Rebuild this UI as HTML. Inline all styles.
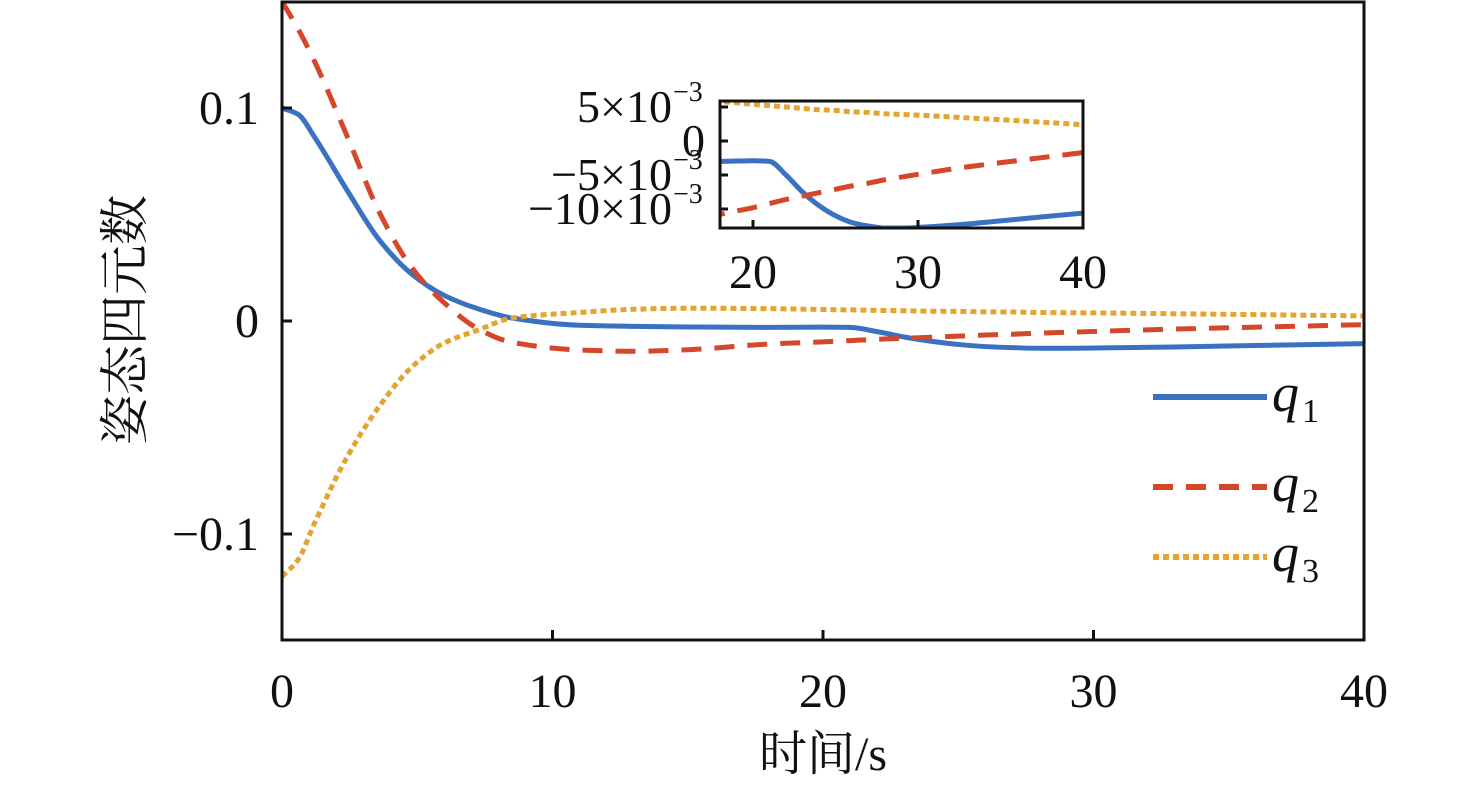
<!DOCTYPE html>
<html><head><meta charset="utf-8">
<style>
html,body{margin:0;padding:0;background:#fff;overflow:hidden;width:1476px;height:785px;}
svg{display:block;overflow:hidden;}
text{font-family:"Liberation Serif","Noto Serif CJK SC",serif;fill:#111;}
</style></head>
<body>
<svg id="chart" width="1476" height="785" viewBox="0 0 1476 785" xmlns="http://www.w3.org/2000/svg">
<defs>
<clipPath id="mainClip"><rect x="282" y="2" width="1082" height="638"/></clipPath>
<clipPath id="insetClip"><rect x="720" y="101" width="363" height="127"/></clipPath>
</defs>
<g id="main"></g>
<g id="inset"></g>
<g id="legend"></g>
</svg>
<script>
const times = [0,0.6,1.2,2.4,3.6,4.8,6,7.3,8.5,11,13,15,18,20,21,22,23,24,25,26,27,28,29,30,33,36,40];
const q1 = [0.1,0.097,0.0864,0.0615,0.038,0.022,0.012,0.0055,0.0014,-0.002,-0.0025,-0.0028,-0.003,-0.0029,-0.003,-0.005,-0.0075,-0.0095,-0.011,-0.012,-0.0125,-0.0128,-0.0128,-0.0127,-0.0122,-0.0115,-0.0106];
const q2 = [0.15,0.137,0.122,0.087,0.051,0.025,0.0085,-0.004,-0.01,-0.0136,-0.0142,-0.0135,-0.0108,-0.0098,-0.0092,-0.0086,-0.0081,-0.0076,-0.0071,-0.0066,-0.0062,-0.0057,-0.0053,-0.0049,-0.0038,-0.0029,-0.0017];
const q3 = [-0.12,-0.112,-0.095,-0.064,-0.040,-0.0216,-0.0103,-0.004,0.0014,0.004,0.0055,0.006,0.0058,0.0054,0.0052,0.005,0.0048,0.0046,0.0045,0.0043,0.0042,0.004,0.0039,0.0038,0.0034,0.003,0.0024];
const xTicks = [0,10,20,30,40];
const yTicks = [-0.1,0,0.1];
const yTickLabels = ["\u22120.1","0","0.1"];
const insetXTicks = [20,30,40];
const insetYTicks = [0.005,0,-0.005,-0.01];
const insetYTickLabels = ["5\u00d710","0","\u22125\u00d710","\u221210\u00d710"];
const seriesNames = ["q1","q2","q3"];

const NS="http://www.w3.org/2000/svg";
function mk(tag,attrs,parent){const e=document.createElementNS(NS,tag);for(const k in attrs)e.setAttribute(k,attrs[k]);parent.appendChild(e);return e;}
const colors=["#3a71c1","#d4472a","#e3a430"];
const dashes=["none","20 13","6 4"];

// monotone cubic (Fritsch-Carlson) in data space
function pathFrom(xs,ys,sx,sy){
  const n=xs.length, d=[], m=new Array(n);
  for(let i=0;i<n-1;i++) d.push((ys[i+1]-ys[i])/(xs[i+1]-xs[i]));
  m[0]=d[0]; m[n-1]=d[n-2];
  for(let i=1;i<n-1;i++){
    if(d[i-1]*d[i]<=0) m[i]=0;
    else{const h0=xs[i]-xs[i-1],h1=xs[i+1]-xs[i];const w1=2*h1+h0,w2=h1+2*h0;m[i]=(w1+w2)/(w1/d[i-1]+w2/d[i]);}
  }
  let p=`M${sx(xs[0])},${sy(ys[0])}`;
  for(let i=0;i<n-1;i++){
    const h=xs[i+1]-xs[i];
    const c1x=xs[i]+h/3,c1y=ys[i]+m[i]*h/3,c2x=xs[i+1]-h/3,c2y=ys[i+1]-m[i+1]*h/3;
    p+=` C${sx(c1x)},${sy(c1y)} ${sx(c2x)},${sy(c2y)} ${sx(xs[i+1])},${sy(ys[i+1])}`;
  }
  return p;
}
const series=[q1,q2,q3];

const L=282,R=1364,T=2,B=640;
const sx=t=>L+(t-0)/40*(R-L);
const sy=v=>321-v*2130;
const main=document.getElementById('main');
const mg=mk('g',{'clip-path':'url(#mainClip)'},main);
series.forEach((s,i)=>{
  const p=mk('path',{d:pathFrom(times,s,sx,sy),fill:'none',stroke:colors[i],'stroke-width':5,'stroke-dasharray':dashes[i]},mg);
  
  
});
const frame=mk('rect',{x:L,y:T,width:R-L,height:B-T,fill:'none',stroke:'#111','stroke-width':3},main);


xTicks.forEach(t=>{
  mk('line',{x1:sx(t),x2:sx(t),y1:B,y2:B-10,stroke:'#111','stroke-width':3},main);
  const tx=mk('text',{x:sx(t),y:707,'text-anchor':'middle','font-size':48},main);
  tx.textContent=t;
  
  
});
yTicks.forEach((v,i)=>{
  mk('line',{x1:L,x2:L+10,y1:sy(v),y2:sy(v),stroke:'#111','stroke-width':3},main);
  const tx=mk('text',{x:259,y:sy(v)+16,'text-anchor':'end','font-size':48},main);
  tx.textContent=yTickLabels[i];
  
  
});
const xt=mk('text',{x:823,y:770,'text-anchor':'middle','font-size':48},main);
xt.textContent='时间/s';


const yt=mk('text',{x:0,y:0,'text-anchor':'middle','font-size':50,transform:'translate(142,320) rotate(-90)'},main);
yt.textContent='姿态四元数';



const iL=720,iR=1083,iT=101,iB=228;
const isx=t=>iL+(t-18)/22*(iR-iL);
const isy=v=>141-v*6800;
const inset=document.getElementById('inset');
mk('rect',{x:iL,y:iT,width:iR-iL,height:iB-iT,fill:'#fff'},inset);
const ig=mk('g',{'clip-path':'url(#insetClip)'},inset);
series.forEach((s,i)=>{
  const p=mk('path',{d:pathFrom(times,s,isx,isy),fill:'none',stroke:colors[i],'stroke-width':5,'stroke-dasharray':dashes[i]},ig);
  
  
});
const ifr=mk('rect',{x:iL,y:iT,width:iR-iL,height:iB-iT,fill:'none',stroke:'#111','stroke-width':3},inset);


insetXTicks.forEach(t=>{
  mk('line',{x1:isx(t),x2:isx(t),y1:iB,y2:iB-8,stroke:'#111','stroke-width':3},inset);
  const tx=mk('text',{x:isx(t),y:288,'text-anchor':'middle','font-size':48},inset);
  tx.textContent=t;
  
  
});
insetYTicks.forEach((v,i)=>{
  mk('line',{x1:iL,x2:iL+8,y1:isy(v),y2:isy(v),stroke:'#111','stroke-width':3},inset);
  const tx=mk('text',{x:v===0?705:672,y:isy(v)+15,'text-anchor':'end','font-size':46},inset);
  tx.textContent=insetYTickLabels[i];
  
  
  if(v!==0){
    const sup=mk('text',{x:673,y:isy(v)-6,'text-anchor':'start','font-size':28},inset);
    sup.textContent='\u22123';
    
    
  }
});

const lg=document.getElementById('legend');
const ly=[397,487,557];
seriesNames.forEach((n,i)=>{
  const ln=mk('line',{x1:1153,x2:1267,y1:ly[i],y2:ly[i],stroke:colors[i],'stroke-width':6,'stroke-dasharray':dashes[i]},lg);
  
  
  const tx=mk('text',{x:1272,y:ly[i]+14,'font-size':54,'font-style':'italic'},lg);
  tx.textContent='q';
  
  
  const sb=mk('text',{x:1302,y:ly[i]+25,'font-size':34},lg);
  sb.textContent=String(i+1);
  
  
});
</script>
</body></html>
